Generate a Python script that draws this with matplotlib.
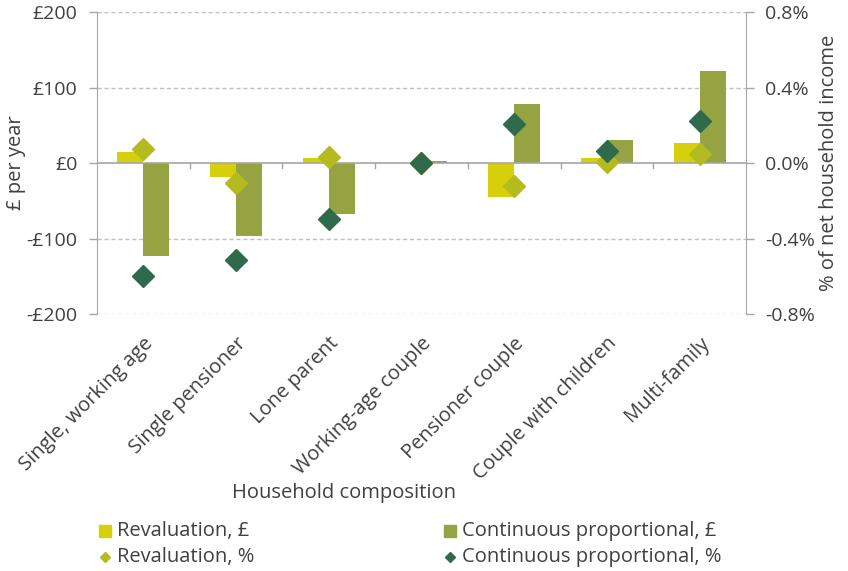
import matplotlib.pyplot as plt
import numpy as np

plt.rcParams['font.family'] = ['Open Sans', 'DejaVu Sans']

# household types
categories = ['Single, working age', 'Single pensioner', 'Lone parent',
              'Working-age couple', 'Pensioner couple', 'Couple with children',
              'Multi-family']
# cash change, £ per year
reval_gbp = [15, -18, 7, 0.5, -45, 7, 26]
cont_gbp = [-123, -96, -67, 3, 78, 31, 122]
# change as % of net household income
reval_pct = [0.073, -0.104, 0.032, 0.0, -0.122, 0.005, 0.048]
cont_pct = [-0.597, -0.514, -0.297, 0.0, 0.208, 0.065, 0.224]

left_ticks = [-200, -100, 0, 100, 200]
left_labels = ['-£200', '-£100', '£0', '£100', '£200']
right_ticks = [-0.8, -0.4, 0.0, 0.4, 0.8]
right_labels = ['-0.8%', '-0.4%', '0.0%', '0.4%', '0.8%']

c_reval = '#d6d00c'
c_cont = '#95a342'
c_reval_pt = '#b3bb1e'
c_cont_pt = '#2f6a4c'
grey = '#a6a6a6'
txt = '#404040'
fs = 14.5

fig = plt.figure(figsize=(8.48, 5.71), dpi=100)
ax = fig.add_axes([0.1144, 0.45, 0.7653, 0.529])
ax2 = ax.twinx()

x = np.arange(len(categories))
w = 0.28
ax.bar(x - w / 2, reval_gbp, w, color=c_reval, zorder=2)
ax.bar(x + w / 2, cont_gbp, w, color=c_cont, zorder=2)
ax.set_xlim(-0.5, len(categories) - 0.5)
ax.set_ylim(-200, 200)

for y in [-200, -100, 100, 200]:
    ax.axhline(y, color='#bfbfbf', lw=1, ls=(0, (3, 2)), zorder=0)
ax.axhline(0, color=grey, lw=1.2, zorder=3)

# category separator ticks on the zero line
for b in np.arange(0.5, len(categories) - 1, 1.0):
    ax.plot([b, b], [0, -7], color=grey, lw=1, zorder=3)

ax2.plot(x, reval_pct, ls='none', marker='D', ms=11, color=c_reval_pt, zorder=4)
ax2.plot(x, cont_pct, ls='none', marker='D', ms=11, color=c_cont_pt, zorder=5)
ax2.set_ylim(-0.8, 0.8)

ax.set_yticks(left_ticks)
ax.set_yticklabels(left_labels)
ax2.set_yticks(right_ticks)
ax2.set_yticklabels(right_labels)
ax.set_xticks(x)
ax.set_xticklabels(categories, rotation=45, ha='right', rotation_mode='anchor')

for a in (ax, ax2):
    for s in ['top', 'bottom']:
        a.spines[s].set_visible(False)
    a.spines['left'].set_color(grey)
    a.spines['right'].set_color(grey)
    a.tick_params(axis='y', colors=grey, labelcolor=txt, labelsize=14, length=6, width=1, pad=8)
ax.spines['right'].set_visible(False)
ax2.spines['left'].set_visible(False)
ax.tick_params(axis='x', length=0, labelsize=fs, labelcolor=txt, pad=14)

ax.set_ylabel('£ per year', fontsize=fs, color=txt, labelpad=0)
ax2.set_ylabel('% of net household income', fontsize=fs, color=txt, labelpad=3)

fig.text(344 / 848, 1 - 493 / 571, 'Household composition', fontsize=fs,
         color=txt, ha='center', va='center')

# legend
items = [(105, 531, 's', c_reval, 'Revaluation, £'),
         (105, 557, 'D', c_reval_pt, 'Revaluation, %'),
         (450, 531, 's', c_cont, 'Continuous proportional, £'),
         (450, 557, 'D', c_cont_pt, 'Continuous proportional, %')]
for px, py, m, c, label in items:
    ms = 8 if m == 's' else 5.5
    fig.lines.append(plt.Line2D([px / 848], [1 - py / 571], marker=m, ms=ms, color=c,
                                ls='none', transform=fig.transFigure))
    fig.text((px + 12) / 848, 1 - py / 571, label, fontsize=fs, color=txt,
             ha='left', va='center')

fig.savefig('out.png', dpi=100)
